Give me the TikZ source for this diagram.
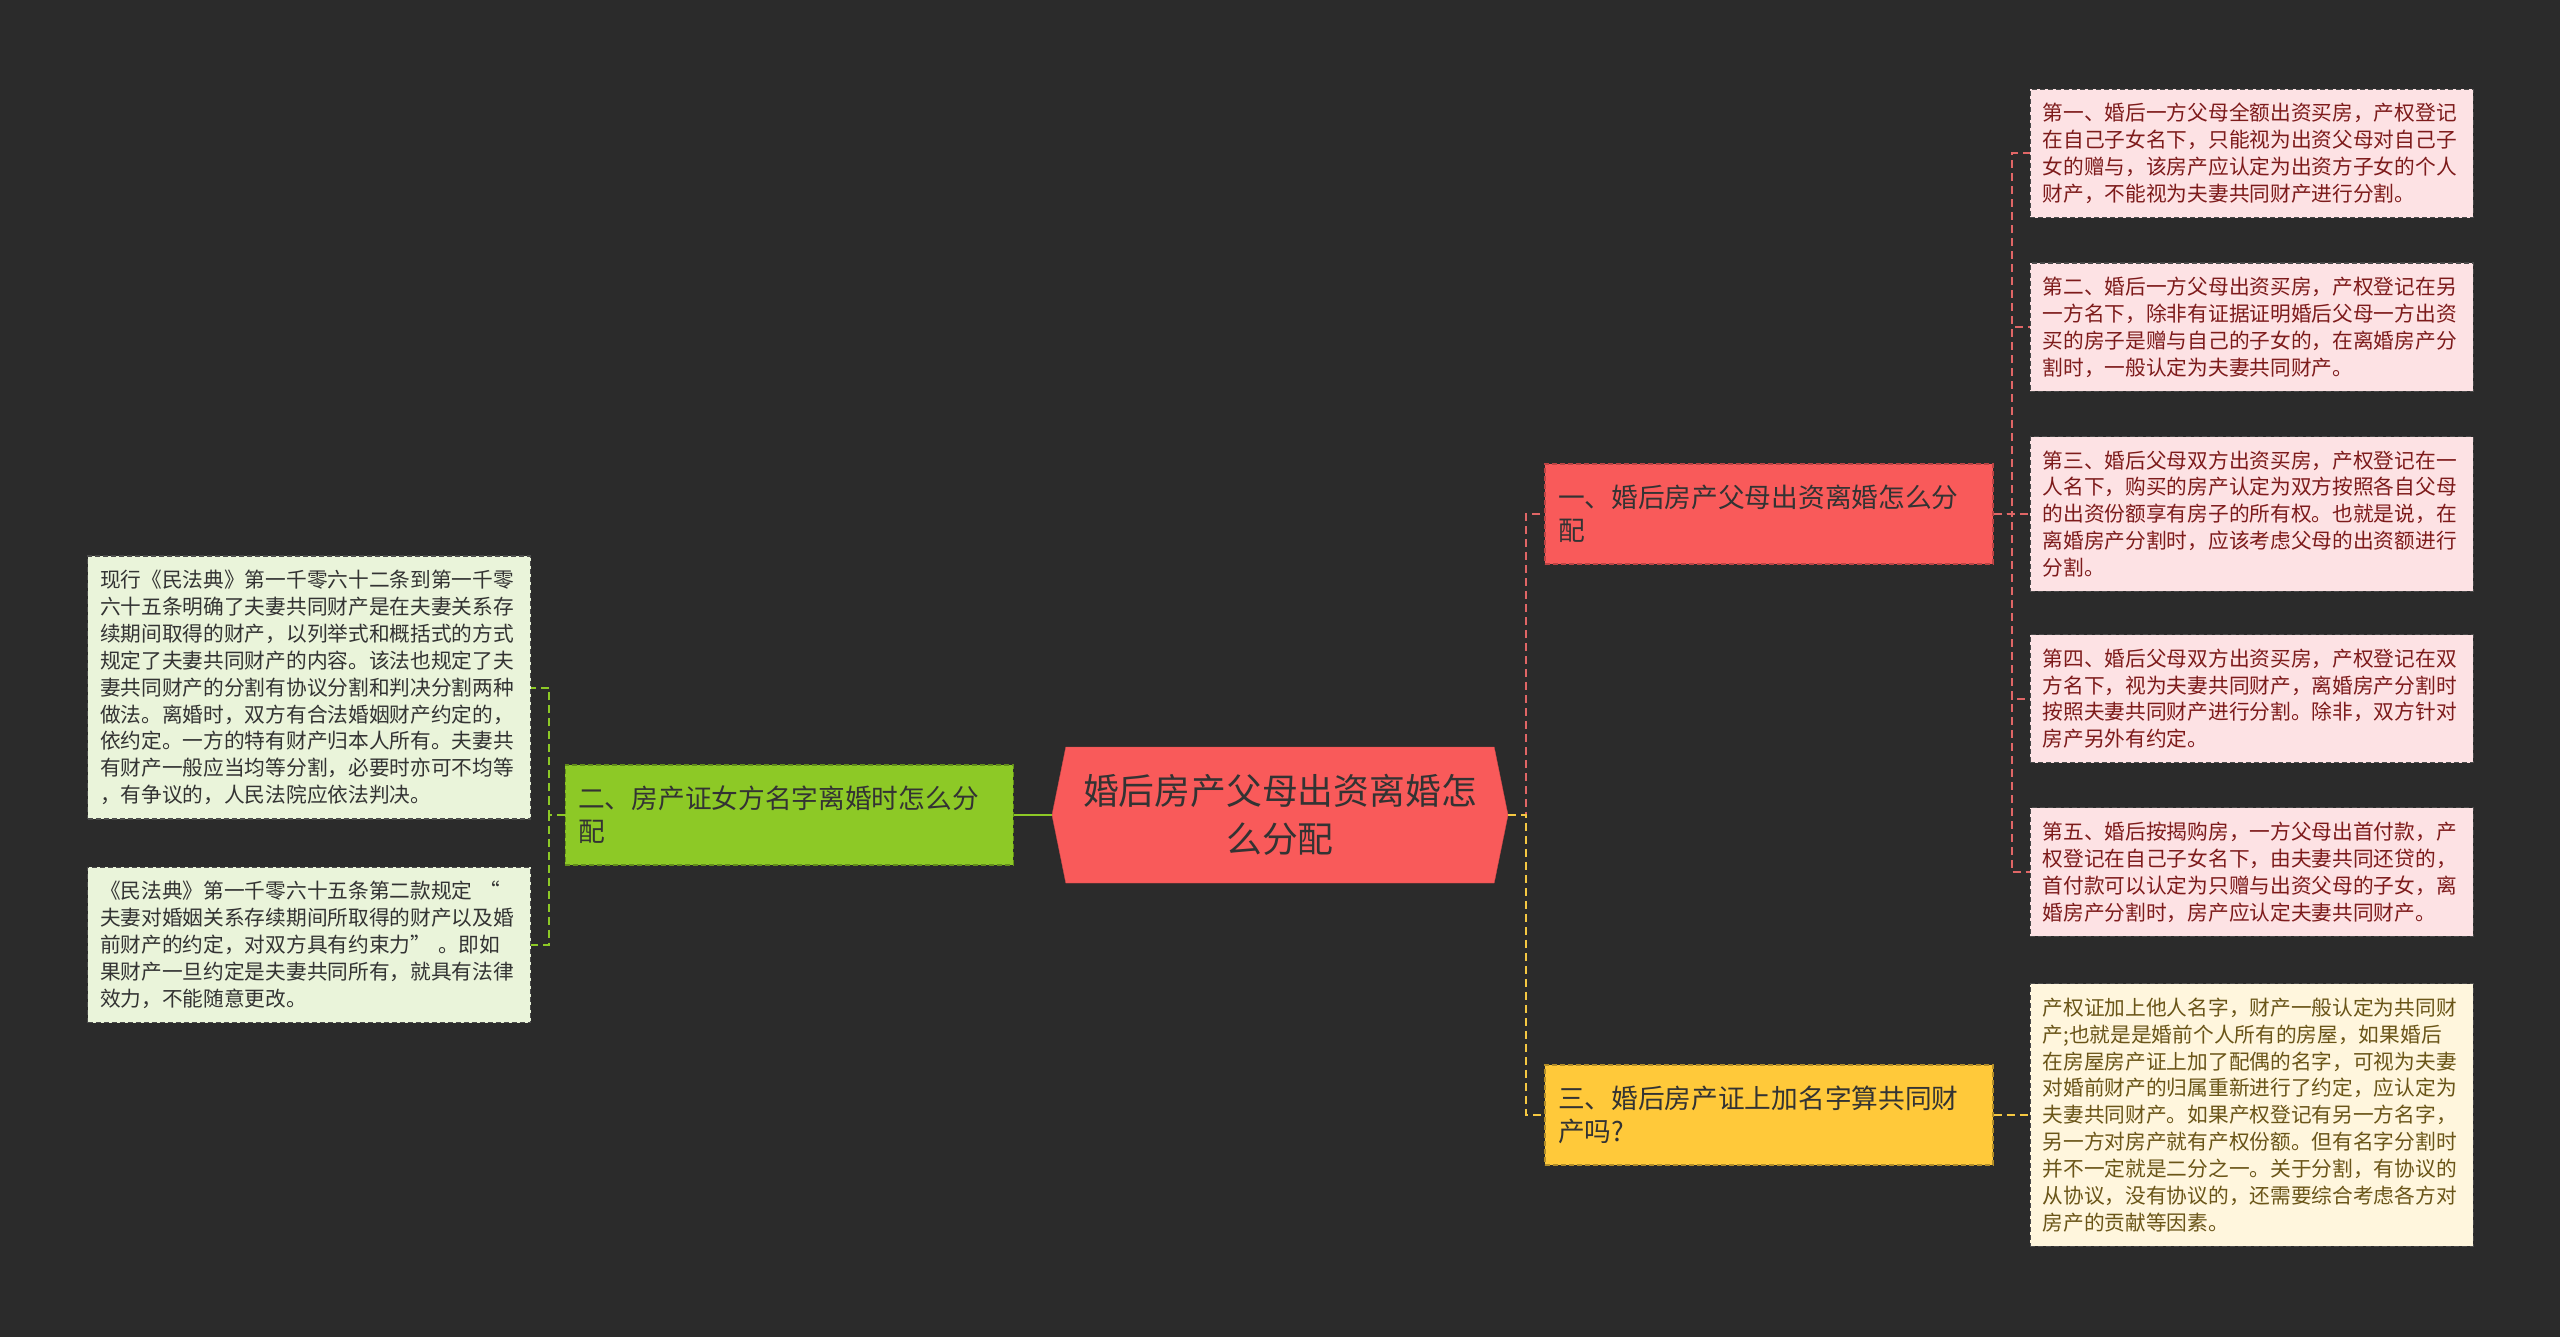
\documentclass[tikz,border=0pt]{standalone}
\usepackage{fontspec}
\setmainfont{Noto Sans CJK SC}
\usepackage{tikz}
\usetikzlibrary{positioning,shapes.symbols}
\definecolor{bgdark}{HTML}{2B2B2B}
\definecolor{inkdark}{HTML}{333333}
\definecolor{rootred}{HTML}{F95A5A}
\definecolor{limegreen}{HTML}{8DC926}
\definecolor{sungold}{HTML}{FFC93A}
\definecolor{pinkfill}{HTML}{FDE2E4}
\definecolor{redink}{HTML}{7D1B1B}
\definecolor{mintfill}{HTML}{EAF4DA}
\definecolor{creamfill}{HTML}{FFF6DD}
\definecolor{brownink}{HTML}{6A5518}
\definecolor{leafline}{HTML}{4A4A4A}
\definecolor{linkred}{HTML}{E06666}
\definecolor{linkgreen}{HTML}{8DC926}
\definecolor{linkyellow}{HTML}{F5C842}
\tikzset{
  rootnode/.style={signal,signal to=east and west,signal pointer angle=157,draw=rootred!85!black,
    fill=rootred,minimum width=456pt,minimum height=136pt,align=center,text=inkdark,
    font=\fontsize{35.8}{48.2}\selectfont},
  branch/.style={rectangle,dash pattern=on 5pt off 3pt,line width=1.2pt,text width=422pt,align=left,
    inner xsep=13pt,minimum height=100pt,text=inkdark,font=\fontsize{26.7}{33}\selectfont},
  leaf/.style={rectangle,draw=leafline,dash pattern=on 5pt off 3pt,line width=1.2pt,text width=418pt,
    align=left,inner xsep=12.5pt,inner ysep=14pt,font=\fontsize{20.7}{26.9}\selectfont},
  redleaf/.style={leaf,fill=pinkfill,text=redink},
  greenleaf/.style={leaf,fill=mintfill,text=inkdark},
  goldleaf/.style={leaf,fill=creamfill,text=brownink},
  link/.style={line width=2pt,dash pattern=on 8pt off 5pt}
}
\begin{document}
\begin{tikzpicture}[x=1pt,y=-1pt]
\useasboundingbox (0,0) rectangle (2560,1337);
\fill[bgdark] (0,0) rectangle (2560,1337);
\node[rootnode] (root) at (1280,815) {婚后房产父母出资离婚怎\\么分配};
\node[branch,draw=rootred!75!black,fill=rootred] (b1) at (1769,514) {一、婚后房产父母出资离婚怎么分\\配};
\node[branch,draw=limegreen!70!black,fill=limegreen,left=38pt of root] (b2) {二、房产证女方名字离婚时怎么分\\配};
\node[branch,draw=sungold!70!black,fill=sungold] (b3) at (1769,1115) {三、婚后房产证上加名字算共同财\\产吗?};
\node[redleaf,right=36pt of b1] (l3) {第三、婚后父母双方出资买房，产权登记在一\\人名下，购买的房产认定为双方按照各自父母\\的出资份额享有房子的所有权。也就是说，在\\离婚房产分割时，应该考虑父母的出资额进行\\分割。};
\node[redleaf,above=44pt of l3] (l2) {第二、婚后一方父母出资买房，产权登记在另\\一方名下，除非有证据证明婚后父母一方出资\\买的房子是赠与自己的子女的，在离婚房产分\\割时，一般认定为夫妻共同财产。};
\node[redleaf,above=44pt of l2] (l1) {第一、婚后一方父母全额出资买房，产权登记\\在自己子女名下，只能视为出资父母对自己子\\女的赠与，该房产应认定为出资方子女的个人\\财产，不能视为夫妻共同财产进行分割。};
\node[redleaf,below=42pt of l3] (l4) {第四、婚后父母双方出资买房，产权登记在双\\方名下，视为夫妻共同财产，离婚房产分割时\\按照夫妻共同财产进行分割。除非，双方针对\\房产另外有约定。};
\node[redleaf,below=44pt of l4] (l5) {第五、婚后按揭购房，一方父母出首付款，产\\权登记在自己子女名下，由夫妻共同还贷的，\\首付款可以认定为只赠与出资父母的子女，离\\婚房产分割时，房产应认定夫妻共同财产。};
\node[goldleaf,right=36pt of b3] (l6) {产权证加上他人名字，财产一般认定为共同财\\产;也就是是婚前个人所有的房屋，如果婚后\\在房屋房产证上加了配偶的名字，可视为夫妻\\对婚前财产的归属重新进行了约定，应认定为\\夫妻共同财产。如果产权登记有另一方名字，\\另一方对房产就有产权份额。但有名字分割时\\并不一定就是二分之一。关于分割，有协议的\\从协议，没有协议的，还需要综合考虑各方对\\房产的贡献等因素。};
\node[greenleaf] (g1) at (309,687.5) {现行《民法典》第一千零六十二条到第一千零\\六十五条明确了夫妻共同财产是在夫妻关系存\\续期间取得的财产，以列举式和概括式的方式\\规定了夫妻共同财产的内容。该法也规定了夫\\妻共同财产的分割有协议分割和判决分割两种\\做法。离婚时，双方有合法婚姻财产约定的，\\依约定。一方的特有财产归本人所有。夫妻共\\有财产一般应当均等分割，必要时亦可不均等\\，有争议的，人民法院应依法判决。};
\node[greenleaf,below=47pt of g1] (g2) {《民法典》第一千零六十五条第二款规定 “\\夫妻对婚姻关系存续期间所取得的财产以及婚\\前财产的约定，对双方具有约束力” 。即如\\果财产一旦约定是夫妻共同所有，就具有法律\\效力，不能随意更改。};
\draw[link,draw=linkred] (root.east) -| ([xshift=-18pt]b1.west) -- (b1.west);
\draw[link,draw=linkyellow] (root.east) -| ([xshift=-18pt]b3.west) -- (b3.west);
\draw[line width=2pt,draw=linkgreen] (root.west) -- (b2.east);
\foreach \l in {l1,l2,l3,l4,l5}
  \draw[link,draw=linkred] (b1.east) -| ([xshift=-18pt]\l.west) -- (\l.west);
\draw[link,draw=linkyellow] (b3.east) -- (l6.west);
\foreach \g in {g1,g2}
  \draw[link,draw=linkgreen] (b2.west) -| ([xshift=18pt]\g.east) -- (\g.east);
\end{tikzpicture}
\end{document}
